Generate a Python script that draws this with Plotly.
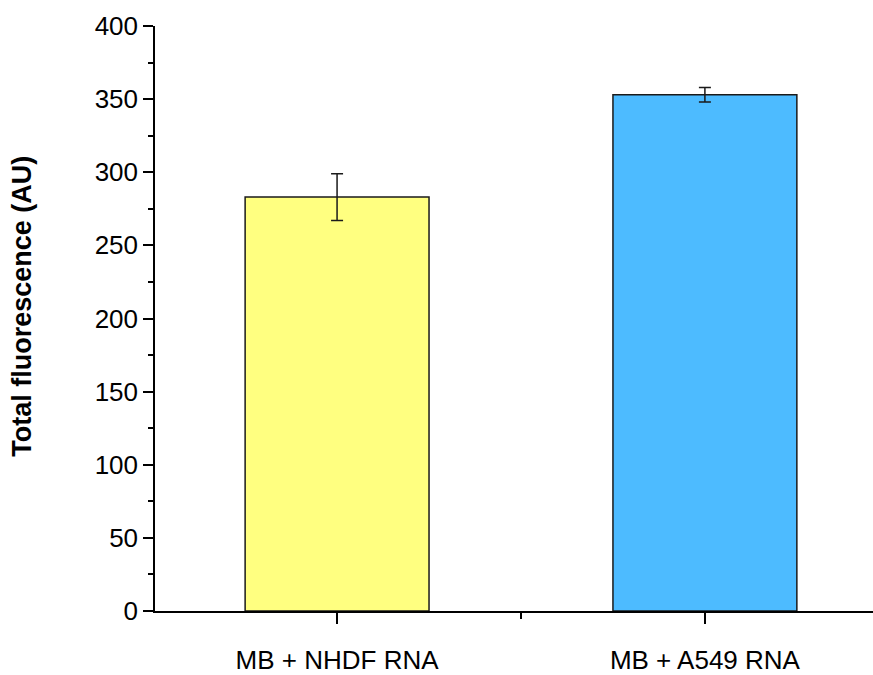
import plotly.graph_objects as go

# Sample groups and measured totals
categories = ["MB + NHDF RNA", "MB + A549 RNA"]
fluorescence = [283, 353]
fluorescence_err = [16, 5]
bar_colors = ["#FFFF80", "#4DBBFF"]

y_ticks = [0, 50, 100, 150, 200, 250, 300, 350, 400]
y_title = "Total fluorescence (AU)"

positions = list(range(len(categories)))

fig = go.Figure()
fig.add_trace(go.Bar(
    x=positions,
    y=fluorescence,
    width=0.5,
    marker=dict(color=bar_colors, line=dict(color="#1a1a1a", width=1.5)),
    error_y=dict(type="data", array=fluorescence_err, visible=True,
                 color="#1a1a1a", thickness=1.5, width=6),
    showlegend=False,
))

font_family = "Liberation Sans, Arial, sans-serif"

fig.update_layout(
    width=873, height=675,
    margin=dict(l=155, r=0, t=26, b=64),
    plot_bgcolor="white", paper_bgcolor="white",
    font=dict(family=font_family, size=26, color="black"),
    xaxis=dict(
        range=[-0.495, 1.457],
        tickvals=positions, ticktext=categories,
        showline=True, linecolor="black", linewidth=1.5,
        ticks="outside", ticklen=11, tickwidth=1.5, tickcolor="black",
        minor=dict(dtick=0.5, tick0=0.5, ticks="outside", ticklen=6,
                   tickwidth=1.5, tickcolor="black"),
        showgrid=False, zeroline=False,
        ticklabelstandoff=14,
        tickfont=dict(size=26),
        automargin=False,
    ),
    yaxis=dict(
        range=[0, 400],
        tickvals=y_ticks,
        showline=True, linecolor="black", linewidth=1.5,
        ticks="outside", ticklen=10, tickwidth=1.5, tickcolor="black",
        minor=dict(dtick=25, ticks="outside", ticklen=5,
                   tickwidth=1.5, tickcolor="black"),
        showgrid=False, zeroline=False,
        tickfont=dict(size=26),
        automargin=False,
    ),
    annotations=[dict(
        text="<b>" + y_title + "</b>",
        xref="paper", yref="paper",
        x=(22 - 155) / 718, y=0.52,
        xanchor="center", yanchor="middle",
        textangle=-90, showarrow=False,
        font=dict(size=27, family=font_family, color="black"),
    )],
)

fig.write_html("out.html")
